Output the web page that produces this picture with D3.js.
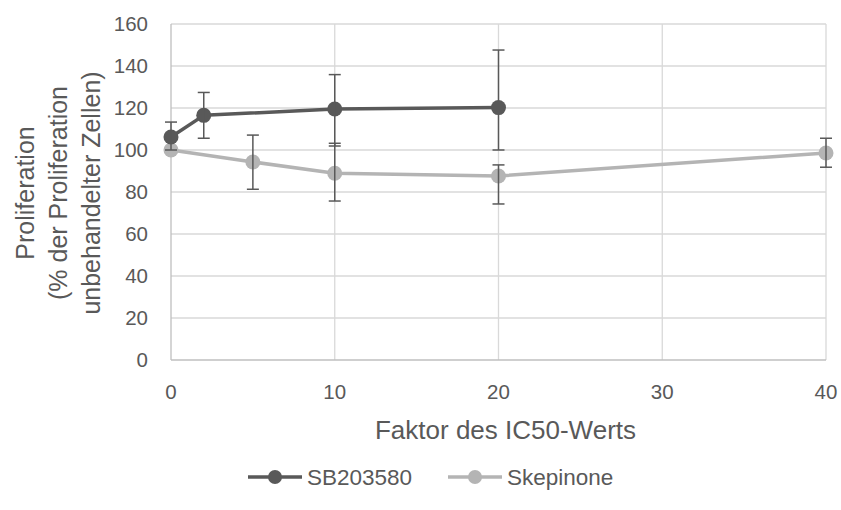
<!DOCTYPE html>
<html>
<head>
<meta charset="utf-8">
<script src="https://cdn.jsdelivr.net/npm/d3@7"></script>
<style>
  body { margin: 0; background: #fff; }
  text { font-family: "Liberation Sans", Arial, sans-serif; fill: #595959; }
</style>
</head>
<body>
<svg id="chart" width="841" height="510"></svg>
<script>
// data
const seriesNames = ['SB203580', 'Skepinone'];
const sbX = [0, 2, 10, 20];
const sbY = [106.2, 116.5, 119.5, 120.2];
const sbHigh = [113.3, 127.4, 135.9, 147.6];
const sbLow = [100, 105.6, 101.9, 100.0];
const skX = [0, 5, 10, 20, 40];
const skY = [100, 94.3, 88.9, 87.6, 98.6];
const skHigh = [100, 107.1, 103.2, 92.9, 105.6];
const skLow = [100, 81.3, 75.7, 74.3, 91.8];
const xTicks = [0, 10, 20, 30, 40];
const yTicks = [0, 20, 40, 60, 80, 100, 120, 140, 160];

const COLORS = ['#595959', '#b4b4b4'];
const ERR = '#595959';

const svg = d3.select('#chart');

const x = d3.scaleLinear().domain([0, 40]).range([171, 826]);
const y = d3.scaleLinear().domain([0, 160]).range([360, 24]);

// gridlines
svg.append('g').selectAll('line')
  .data(yTicks.slice(1))
  .enter().append('line')
  .attr('x1', x(0)).attr('x2', x(40))
  .attr('y1', d => y(d)).attr('y2', d => y(d))
  .attr('stroke', '#d9d9d9').attr('stroke-width', 1.3);

svg.append('g').selectAll('line')
  .data(xTicks.slice(1))
  .enter().append('line')
  .attr('x1', d => x(d)).attr('x2', d => x(d))
  .attr('y1', y(0)).attr('y2', y(160))
  .attr('stroke', '#d9d9d9').attr('stroke-width', 1.3);

// axis lines
svg.append('line').attr('x1', x(0)).attr('x2', x(0)).attr('y1', y(0)).attr('y2', y(160))
  .attr('stroke', '#bfbfbf').attr('stroke-width', 1.3);
svg.append('line').attr('x1', x(0)).attr('x2', x(40)).attr('y1', y(0)).attr('y2', y(0))
  .attr('stroke', '#bfbfbf').attr('stroke-width', 1.3);

// tick labels
svg.append('g').selectAll('text')
  .data(yTicks).enter().append('text')
  .attr('x', 148).attr('y', d => y(d)).attr('dy', '0.35em')
  .attr('text-anchor', 'end').style('font-size', '20.5px')
  .text(d => d);

svg.append('g').selectAll('text')
  .data(xTicks).enter().append('text')
  .attr('x', d => x(d)).attr('y', 392).attr('dy', '0.35em')
  .attr('text-anchor', 'middle').style('font-size', '20.5px')
  .text(d => d);

// axis titles
svg.append('text')
  .attr('x', (x(0) + x(40)) / 2 + 7).attr('y', 430).attr('dy', '0.35em')
  .attr('text-anchor', 'middle').style('font-size', '26px')
  .text('Faktor des IC50-Werts');

const yTitle = ['Proliferation', '(% der Proliferation', 'unbehandelter Zellen)'];
svg.append('g')
  .attr('transform', 'translate(0,193) rotate(-90)')
  .selectAll('text').data(yTitle).enter().append('text')
  .attr('x', 0).attr('y', (d, i) => 25 + i * 33).attr('dy', '0.35em')
  .attr('text-anchor', 'middle').style('font-size', '25px')
  .text(d => d);

const series = [
  { xs: sbX, ys: sbY, hi: sbHigh, lo: sbLow, color: COLORS[0] },
  { xs: skX, ys: skY, hi: skHigh, lo: skLow, color: COLORS[1] }
];

const line = d3.line().x(d => x(d[0])).y(d => y(d[1]));

// draw Skepinone first so SB lies on top
[series[1], series[0]].forEach(s => {
  const pts = s.xs.map((v, i) => [v, s.ys[i], s.hi[i], s.lo[i]]);
  const g = svg.append('g');
  g.append('path').datum(pts)
    .attr('d', line).attr('fill', 'none')
    .attr('stroke', s.color).attr('stroke-width', 3.5)
    .attr('stroke-linejoin', 'round');
  g.selectAll('circle').data(pts).enter().append('circle')
    .attr('cx', d => x(d[0])).attr('cy', d => y(d[1])).attr('r', 7.5)
    .attr('fill', s.color);
  const eb = g.selectAll('g.err').data(pts.filter(d => d[2] !== d[3])).enter().append('g');
  eb.append('line')
    .attr('x1', d => x(d[0])).attr('x2', d => x(d[0]))
    .attr('y1', d => y(d[2])).attr('y2', d => y(d[3]))
    .attr('stroke', ERR).attr('stroke-width', 1.5);
  eb.append('line')
    .attr('x1', d => x(d[0]) - 6).attr('x2', d => x(d[0]) + 6)
    .attr('y1', d => y(d[2])).attr('y2', d => y(d[2]))
    .attr('stroke', ERR).attr('stroke-width', 1.5);
  eb.append('line')
    .attr('x1', d => x(d[0]) - 6).attr('x2', d => x(d[0]) + 6)
    .attr('y1', d => y(d[3])).attr('y2', d => y(d[3]))
    .attr('stroke', ERR).attr('stroke-width', 1.5);
});

// legend
const legendPos = [248, 448];
const legend = svg.append('g').selectAll('g').data(seriesNames).enter().append('g')
  .attr('transform', (d, i) => `translate(${legendPos[i]},477)`);
legend.append('line').attr('x1', 0).attr('x2', 54).attr('y1', 0).attr('y2', 0)
  .attr('stroke', (d, i) => COLORS[i]).attr('stroke-width', 3.5);
legend.append('circle').attr('cx', 27).attr('cy', 0).attr('r', 7)
  .attr('fill', (d, i) => COLORS[i]);
legend.append('text').attr('x', 59).attr('y', 0).attr('dy', '0.35em')
  .style('font-size', '22.5px').text(d => d);
</script>
</body>
</html>
